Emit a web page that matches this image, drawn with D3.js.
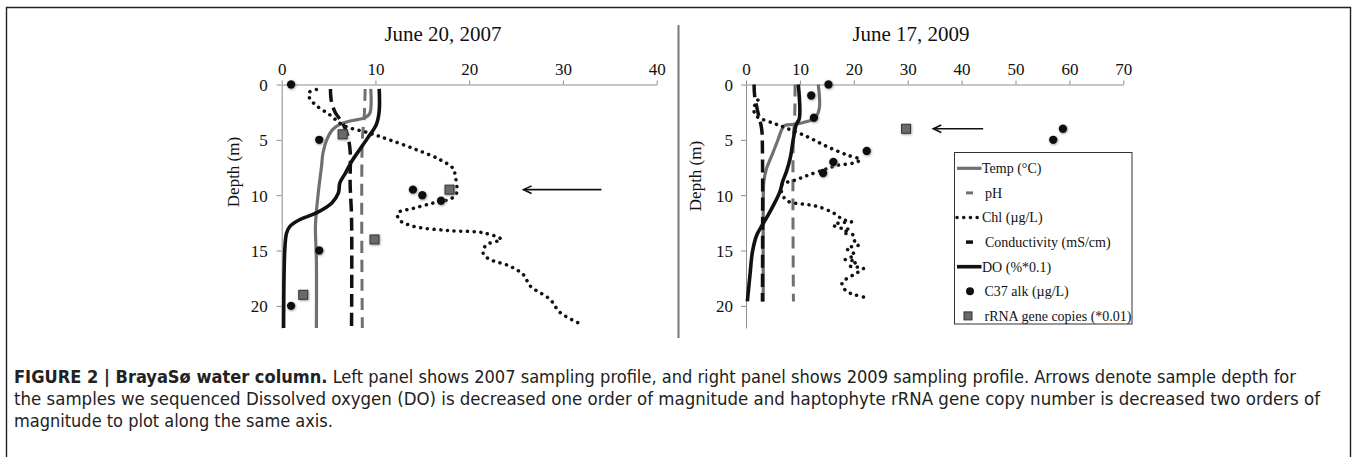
<!DOCTYPE html>
<html>
<head>
<meta charset="utf-8">
<script src="https://cdn.jsdelivr.net/npm/d3@7/dist/d3.min.js"></script>
<style>
body{margin:0;background:#fff;}
svg{display:block;}
</style>
</head>
<body>
<svg id="fig" width="1352" height="457"></svg>
<script>
// ---- data: [depth (m), value] ----
const temp2007 = [[0.4,9.5],[2.6,9.4],[3.0,8.9],[3.3,7.3],[3.6,6.2],[4.1,5.4],[5.0,4.8],[6.2,4.4],[7.4,4.25],[9.8,3.9],[12.8,3.6],[15.8,3.7],[22,3.7]];
const ph2007 = [[0.4,8.9],[3,8.8],[5,8.6],[22,8.6]];
const chl2007 = [[0.45,3.7],[0.7,2.95],[1.2,2.95],[1.9,3.7],[2.75,5.15],[3.7,6.6],[4.4,9.4],[5.0,11.5],[5.9,14.4],[6.8,16.9],[7.6,18.3],[8.2,18.5],[9.8,18.65],[10.3,18.1],[10.7,16.2],[11.2,14.0],[11.6,12.4],[12.2,12.5],[12.8,14.0],[13.2,17.9],[13.4,21.5],[14.0,23.4],[14.5,21.8],[15.3,21.5],[15.8,22.2],[16.4,24.3],[17.2,25.8],[18.2,26.5],[19.4,28.6],[20.6,29.7],[21.6,31.8]];
const cond2007 = [[0.4,5.2],[1.5,5.3],[2.5,5.7],[3.5,6.5],[4.5,7.0],[6,7.3],[9,7.3],[12,7.45],[22,7.45]];
const do2007 = [[0.4,10.4],[2.4,10.4],[3.6,10.1],[4.8,9.2],[5.9,8.3],[6.9,7.5],[8.0,6.8],[8.9,6.2],[9.8,6.05],[10.7,5.35],[11.6,3.7],[12.2,1.95],[12.8,0.9],[13.4,0.53],[14.6,0.35],[22,0.2]];
const c37Depth2007 = [0, 5, 9.5, 10, 10.5, 15, 20];
const c37Value2007 = [1.0, 4.0, 14.0, 15.0, 17.0, 4.0, 1.0];
const rrnaDepth2007 = [4.5, 9.5, 14, 19];
const rrnaValue2007 = [6.5, 17.9, 9.9, 2.3];
const arrow2007 = {depth: 9.5, from: 34.1, to: 25.8};

const temp2009 = [[0,13.4],[2.15,13.6],[3.05,12.8],[3.35,11.3],[3.6,9.1],[3.7,7.2],[4.1,6.6],[4.9,6.0],[6.4,4.8],[7.6,3.8],[8.8,3.3],[10.6,3.2],[19.6,3.2]];
const ph2009 = [[0,9.1],[3.5,9.0],[4.5,8.8],[19.6,8.8]];
const chl2009 = [[1.4,2.2],[1.5,2.3],[2.0,1.5],[2.75,1.7],[3.05,2.6],[3.5,5.1],[3.95,7.5],[4.7,11.3],[5.6,15.0],[6.36,18.7],[6.8,21.2],[7.1,19.9],[7.3,17.0],[7.7,14.5],[8.2,11.5],[8.6,9.4],[9.1,6.6],[10.1,6.9],[10.6,8.0],[10.8,10.5],[11.0,13.1],[11.6,16.2],[12.2,18.0],[12.4,19.6],[12.5,17.4],[12.7,16.2],[13.0,17.8],[13.1,19.3],[13.4,18.0],[13.6,19.9],[14.2,20.2],[14.5,20.9],[14.8,18.7],[15.4,20.2],[15.8,18.4],[16.0,20.5],[16.4,19.3],[16.6,21.8],[17.2,19.9],[17.8,18.0],[18.1,17.8],[18.7,18.7],[19.0,20.2],[19.2,21.8]];
const cond2009 = [[0,1.5],[1,1.6],[2.5,2.2],[4,2.9],[6,3.05],[19.6,3.05]];
const do2009 = [[0,9.7],[3.05,9.9],[3.65,9.3],[4.86,8.8],[6.66,8.2],[7.87,7.5],[8.77,6.8],[9.67,6.3],[10.9,5.1],[11.8,4.1],[12.8,2.9],[13.6,2.0],[15.1,1.2],[17.2,0.74],[19.6,0.25]];
const c37Depth2009 = [0, 1, 3, 4, 5, 6, 7, 8];
const c37Value2009 = [15.3, 12.1, 12.6, 58.8, 57.0, 22.4, 16.2, 14.3];
const rrnaDepth2009 = [4];
const rrnaValue2009 = [29.7];
const arrow2009 = {depth: 4, from: 44.0, to: 34.75};

const xTicks2007 = [0, 10, 20, 30, 40];
const xTicks2009 = [0, 10, 20, 30, 40, 50, 60, 70];
const depthTicks = [0, 5, 10, 15, 20];
const legendLabels = ["Temp (°C)", "pH", "Chl (µg/L)", "Conductivity (mS/cm)", "DO (%*0.1)", "C37 alk (µg/L)", "rRNA gene copies (*0.01)"];

// ---- styles ----
const GRAY = "#707070", BLACK = "#111";
const serif = "'Liberation Serif','Times New Roman',serif";
const lineStyles = {
  temp: {stroke: GRAY, width: 3.2, dash: null},
  ph:   {stroke: GRAY, width: 3, dash: "12 7"},
  chl:  {stroke: BLACK, width: 3.5, dash: "0.1 6.6"},
  cond: {stroke: BLACK, width: 3.5, dash: "13 6"},
  do:   {stroke: BLACK, width: 3.6, dash: null}
};

const svg = d3.select("#fig");

// drop shadow for the dots
const defs = svg.append("defs");
const f = defs.append("filter").attr("id", "soft").attr("x", "-50%").attr("y", "-50%").attr("width", "200%").attr("height", "200%");
f.append("feDropShadow").attr("dx", 0.6).attr("dy", 0.8).attr("stdDeviation", 1).attr("flood-color", "#777").attr("flood-opacity", 0.8);

// frame
svg.append("path").attr("d", "M6.5,460 L6.5,7.5 L1350.5,7.5 L1350.5,460")
  .attr("fill", "none").attr("stroke", "#222").attr("stroke-width", 1.4);
svg.append("line").attr("x1", 678.5).attr("x2", 678.5).attr("y1", 25).attr("y2", 338)
  .attr("stroke", "#777").attr("stroke-width", 2);

const yTop = 84.5, yBot = 328;

function drawPanel(p) {
  const x = d3.scaleLinear().domain(p.xDomain).range(p.xRange);
  const y = d3.scaleLinear().domain([0, 22]).range([yTop, yBot]);
  const g = svg.append("g");

  g.append("text").attr("x", p.titleX).attr("y", 41).attr("text-anchor", "middle")
    .attr("font-family", serif).attr("font-size", 21).attr("fill", "#111").text(p.title);

  const xAxis = g.append("g").attr("transform", "translate(0," + yTop + ")")
    .call(d3.axisTop(x).tickValues(p.xTicks).tickSize(4).tickSizeOuter(0).tickPadding(6));
  const yAxis = g.append("g").attr("transform", "translate(" + p.xRange[0] + ",0)")
    .call(d3.axisLeft(y).tickValues(depthTicks).tickSize(5).tickSizeOuter(0).tickPadding(p.yPad));
  [xAxis, yAxis].forEach(a => {
    a.attr("font-family", serif).attr("font-size", 17);
    a.selectAll("path,line").attr("stroke", "#8c8c8c");
    a.selectAll("text").attr("fill", "#111");
  });
  yAxis.selectAll(".tick text").attr("dy", "0.36em");

  g.append("text").attr("transform", "translate(" + p.labelX + "," + p.labelY + ") rotate(-90)")
    .attr("text-anchor", "middle").attr("font-family", serif).attr("font-size", 17)
    .attr("fill", "#111").text("Depth (m)");

  const line = d3.line().x(d => x(d[1])).y(d => y(d[0])).curve(d3.curveCatmullRom.alpha(0.5));
  ["temp", "ph", "chl", "cond", "do"].forEach(k => {
    const s = lineStyles[k];
    g.append("path").attr("d", line(p[k])).attr("fill", "none")
      .attr("stroke", s.stroke).attr("stroke-width", s.width)
      .attr("stroke-dasharray", s.dash).attr("stroke-linecap", k === "chl" ? "round" : "butt")
      .attr("stroke-linejoin", "round");
  });

  g.selectAll(".c37").data(p.c37Depth).enter().append("circle")
    .attr("cx", (d, i) => x(p.c37Value[i])).attr("cy", d => y(d)).attr("r", 4.2)
    .attr("fill", BLACK).attr("filter", "url(#soft)");

  g.selectAll(".rrna").data(p.rrnaDepth).enter().append("rect")
    .attr("x", (d, i) => x(p.rrnaValue[i]) - 4.5).attr("y", d => y(d) - 4.5)
    .attr("width", 9).attr("height", 9).attr("fill", "#6a6a6a")
    .attr("stroke", "#333").attr("stroke-width", 1).attr("filter", "url(#soft)");

  const ay = y(p.arrow.depth), ax = x(p.arrow.to);
  g.append("line").attr("x1", x(p.arrow.from)).attr("x2", ax).attr("y1", ay).attr("y2", ay)
    .attr("stroke", BLACK).attr("stroke-width", 1.6);
  g.append("path").attr("d", "M" + (ax + 8) + "," + (ay - 3.8) + " L" + ax + "," + ay + " L" + (ax + 8) + "," + (ay + 3.8))
    .attr("fill", "none").attr("stroke", BLACK).attr("stroke-width", 1.6);
  return g;
}

drawPanel({
  title: "June 20, 2007", titleX: 443, xDomain: [0, 40], xRange: [281.7, 656.7], xTicks: xTicks2007,
  yPad: 9, labelX: 239, labelY: 172,
  temp: temp2007, ph: ph2007, chl: chl2007, cond: cond2007, do: do2007,
  c37Depth: c37Depth2007, c37Value: c37Value2007, rrnaDepth: rrnaDepth2007, rrnaValue: rrnaValue2007,
  arrow: arrow2007
});

drawPanel({
  title: "June 17, 2009", titleX: 911, xDomain: [0, 70], xRange: [746, 1123.3], xTicks: xTicks2009,
  yPad: 8, labelX: 701, labelY: 176,
  temp: temp2009, ph: ph2009, chl: chl2009, cond: cond2009, do: do2009,
  c37Depth: c37Depth2009, c37Value: c37Value2009, rrnaDepth: rrnaDepth2009, rrnaValue: rrnaValue2009,
  arrow: arrow2009
});

// legend
const lg = svg.append("g");
lg.append("rect").attr("x", 954.5).attr("y", 152.5).attr("width", 177.5).attr("height", 171.5)
  .attr("fill", "#fff").attr("stroke", "#333").attr("stroke-width", 1);
const rowY = i => 168.3 + i * 24.6;
const keys = ["temp", "ph", "chl", "cond", "do"];
keys.forEach((k, i) => {
  const s = lineStyles[k];
  const short = (k === "ph" || k === "cond");
  lg.append("line").attr("x1", short ? 966 : 957).attr("x2", short ? 973 : 981.5)
    .attr("y1", rowY(i)).attr("y2", rowY(i))
    .attr("stroke", s.stroke).attr("stroke-width", s.width)
    .attr("stroke-dasharray", k === "chl" ? s.dash : null)
    .attr("stroke-linecap", k === "chl" ? "round" : "butt");
});
lg.append("circle").attr("cx", 970).attr("cy", rowY(5)).attr("r", 4).attr("fill", BLACK);
lg.append("rect").attr("x", 964).attr("y", rowY(6) - 4).attr("width", 8).attr("height", 8)
  .attr("fill", "#6a6a6a").attr("stroke", "#333");
const textX = [982, 985, 982, 985, 982, 984.5, 984.5];
legendLabels.forEach((t, i) => {
  lg.append("text").attr("x", textX[i]).attr("y", rowY(i)).attr("dy", "0.35em")
    .attr("font-family", serif).attr("font-size", 14).attr("fill", "#111").text(t);
});

// caption
const capFont = "'Liberation Sans Narrow','DejaVu Sans Condensed',sans-serif";
const cap = svg.append("g").attr("font-family", capFont).attr("font-size", 18).attr("fill", "#222");
const c1 = cap.append("text").attr("x", 14).attr("y", 383)
  .attr("textLength", 1282).attr("lengthAdjust", "spacingAndGlyphs");
c1.append("tspan").attr("font-weight", "bold").text("FIGURE 2 | BrayaSø water column.");
c1.append("tspan").text(" Left panel shows 2007 sampling profile, and right panel shows 2009 sampling profile. Arrows denote sample depth for");
cap.append("text").attr("x", 14).attr("y", 405)
  .attr("textLength", 1306).attr("lengthAdjust", "spacingAndGlyphs")
  .text("the samples we sequenced Dissolved oxygen (DO) is decreased one order of magnitude and haptophyte rRNA gene copy number is decreased two orders of");
cap.append("text").attr("x", 14).attr("y", 427).text("magnitude to plot along the same axis.");
</script>
</body>
</html>
